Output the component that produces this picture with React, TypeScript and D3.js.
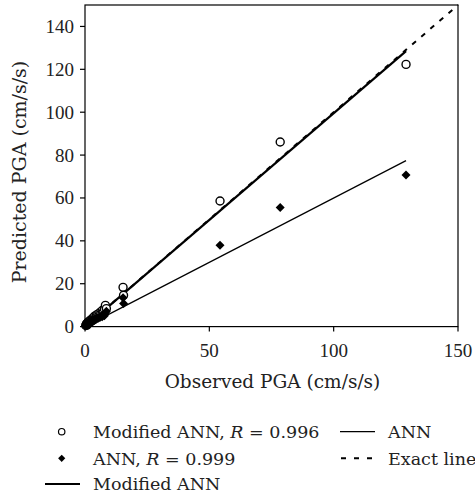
import React from "react";
import * as d3 from "d3";

const observed = [0.3, 0.5, 0.6, 0.8, 1.0, 1.1, 1.3, 1.5, 1.7, 1.9, 2.0, 2.2, 2.4, 2.6, 2.9, 3.1, 3.3, 3.6, 3.9, 4.2, 4.5, 4.8, 5.2, 5.6, 6.0, 6.4, 6.9, 7.3, 7.8, 8.2, 8.6, 15.3, 15.5, 54.3, 78.5, 129.1];
const modifiedPred = [0.5, 0.9, 1.3, 0.7, 1.8, 1.2, 2.1, 1.6, 2.4, 1.9, 2.8, 2.3, 3.2, 2.7, 3.5, 3.0, 4.2, 3.6, 4.9, 4.0, 5.3, 4.7, 5.8, 5.2, 6.6, 6.1, 7.5, 6.8, 8.2, 9.9, 8.4, 18.3, 14.6, 58.6, 86.1, 122.3];
const annPred = [0.3, 0.5, 0.8, 1.0, 0.9, 1.4, 1.2, 1.7, 1.5, 2.0, 1.8, 2.3, 2.1, 2.6, 2.4, 2.9, 2.7, 3.2, 3.0, 3.6, 3.4, 4.0, 3.8, 4.4, 4.2, 4.9, 4.6, 5.4, 5.1, 6.5, 7.2, 13.4, 10.8, 37.9, 55.5, 70.7];

const modifiedFitX = [0, 129.1];
const modifiedFitY = [0, 128.5];
const annFitX = [0, 129.1];
const annFitY = [0, 77.4];
const exactX = [0, 150];
const exactY = [0, 150];

const xTicks = [0, 50, 100, 150];
const yTicks = [0, 20, 40, 60, 80, 100, 120, 140];

const W = 475, H = 496;
const L = 85, R = 458, T = 5, B = 326.6;
const TEXT_FONT = "'DejaVu Serif', serif";
const NUM_FONT = "'Liberation Serif', serif";

function diamondPath(s: number) {
  return `M0,${-s}L${s},0L0,${s}L${-s},0Z`;
}

export default function App() {
  const x = d3.scaleLinear().domain([0, 150]).range([L, R]);
  const y = d3.scaleLinear().domain([0, 150]).range([B, T]);
  const line = d3.line<[number, number]>().x(d => x(d[0])).y(d => y(d[1]));
  const pts = (xs: number[], ys: number[]) => xs.map((v, i) => [v, ys[i]] as [number, number]);
  const diamond = diamondPath(4.5);

  return (
    <svg width={W} height={H} style={{ position: "absolute", left: 0, top: 0, background: "#fff" }}>
      <rect x={0} y={0} width={W} height={H} fill="#fff" />
      <path d={line(pts(exactX, exactY)) as string} fill="none" stroke="#000" strokeWidth={2} strokeDasharray="5,7" />
      <path d={line(pts(annFitX, annFitY)) as string} fill="none" stroke="#000" strokeWidth={1.2} />
      <path d={line(pts(modifiedFitX, modifiedFitY)) as string} fill="none" stroke="#000" strokeWidth={2.2} />
      {observed.map((o, i) => (
        <circle key={"m" + i} cx={x(o)} cy={y(modifiedPred[i])} r={4} fill="#fff" stroke="#000" strokeWidth={1.4} />
      ))}
      {observed.map((o, i) => (
        <path key={"a" + i} d={diamond} transform={`translate(${x(o)},${y(annPred[i])})`} fill="#000" />
      ))}
      <rect x={L} y={T} width={R - L} height={B - T} fill="none" stroke="#000" strokeWidth={1.2} />
      {xTicks.map(t => (
        <g key={"xt" + t}>
          <line x1={x(t)} x2={x(t)} y1={B} y2={B + 5} stroke="#000" strokeWidth={1.2} />
          <text x={x(t)} y={357} textAnchor="middle" fontFamily={NUM_FONT} fontSize={19} fill="#222">{t}</text>
        </g>
      ))}
      {yTicks.map(t => (
        <g key={"yt" + t}>
          <line x1={L - 5} x2={L} y1={y(t)} y2={y(t)} stroke="#000" strokeWidth={1.2} />
          <text x={74} y={y(t) + 6.5} textAnchor="end" fontFamily={NUM_FONT} fontSize={19} fill="#222">{t}</text>
        </g>
      ))}
      <text x={272.5} y={388} textAnchor="middle" fontFamily={TEXT_FONT} fontSize={18.5} fill="#222">Observed PGA (cm/s/s)</text>
      <text transform={`translate(25.5,172) rotate(-90)`} textAnchor="middle" fontFamily={TEXT_FONT} fontSize={19} fill="#222">Predicted PGA (cm/s/s)</text>
      <circle cx={61.7} cy={431.7} r={3.2} fill="#fff" stroke="#000" strokeWidth={1.2} />
      <text x={93} y={438} fontFamily={TEXT_FONT} fontSize={17.5} fill="#222">Modified ANN, <tspan fontStyle="italic">R</tspan> = 0.996</text>
      <path d={diamondPath(3.6)} transform="translate(61.7,458.3)" fill="#000" />
      <text x={93} y={464.5} fontFamily={TEXT_FONT} fontSize={17.5} fill="#222">ANN, <tspan fontStyle="italic">R</tspan> = 0.999</text>
      <line x1={45} x2={80} y1={484} y2={484} stroke="#000" strokeWidth={2} />
      <text x={93} y={490} fontFamily={TEXT_FONT} fontSize={17.5} fill="#222">Modified ANN</text>
      <line x1={340} x2={375} y1={431.7} y2={431.7} stroke="#000" strokeWidth={1.2} />
      <text x={388} y={438} fontFamily={TEXT_FONT} fontSize={17.5} fill="#222">ANN</text>
      <line x1={341} x2={372} y1={458.3} y2={458.3} stroke="#000" strokeWidth={2} strokeDasharray="5,8" />
      <text x={388} y={464.5} fontFamily={TEXT_FONT} fontSize={17.5} fill="#222">Exact line</text>
    </svg>
  );
}
